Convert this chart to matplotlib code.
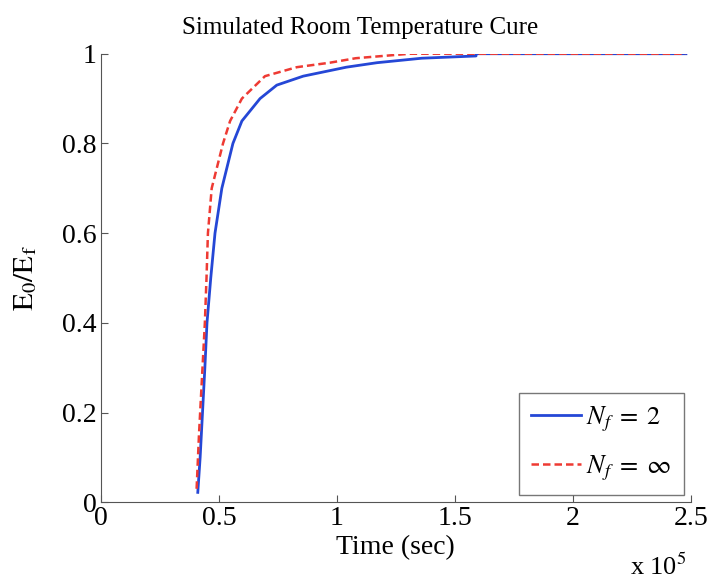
import matplotlib.pyplot as plt
from matplotlib.ticker import FuncFormatter

plt.rcParams['font.family'] = 'Liberation Serif'
plt.rcParams['mathtext.fontset'] = 'stix'

# time in seconds, modulus ratio
t_blue = [0.41e5, 0.42e5, 0.43e5, 0.44e5, 0.449e5, 0.465e5, 0.483e5, 0.512e5, 0.559e5,
          0.597e5, 0.674e5, 0.745e5, 0.857e5, 1.04e5, 1.17e5, 1.36e5, 1.59e5, 1.59e5, 2.48e5]
e_blue = [0.022, 0.1, 0.2, 0.3, 0.4, 0.5, 0.6, 0.7, 0.8,
          0.85, 0.9, 0.93, 0.95, 0.97, 0.98, 0.99, 0.995, 1.0, 1.0]

t_red = [0.405e5, 0.415e5, 0.425e5, 0.435e5, 0.44e5, 0.447e5, 0.453e5, 0.469e5, 0.517e5,
         0.547e5, 0.597e5, 0.695e5, 0.83e5, 0.97e5, 1.08e5, 1.31e5, 2.48e5]
e_red = [0.03, 0.15, 0.25, 0.35, 0.4, 0.5, 0.6, 0.7, 0.8,
         0.85, 0.9, 0.95, 0.97, 0.98, 0.99, 1.0, 1.0]

fig = plt.figure(figsize=(7.12, 5.84), dpi=100)
ax = fig.add_axes([0.142, 0.14, 0.828, 0.768])

ax.plot(t_blue, e_blue, color='#2547d6', lw=2, label='$N_f\\;=\\;2$')
ax.plot(t_red, e_red, color='#ee3a33', lw=1.8, ls='--', dashes=(3, 1.6),
        label='$N_f\\;=\\;\\infty$')

ax.set_xlim(0, 2.5e5)
ax.set_ylim(0, 1)
ax.set_xticks([0, 0.5e5, 1e5, 1.5e5, 2e5, 2.5e5])
ax.set_yticks([0, 0.2, 0.4, 0.6, 0.8, 1])
ax.xaxis.set_major_formatter(FuncFormatter(lambda v, p: '%g' % (v / 1e5)))
ax.yaxis.set_major_formatter(FuncFormatter(lambda v, p: '%g' % v))
ax.tick_params(direction='in', labelsize=20, length=5, color='#555555', pad=3)
ax.spines['top'].set_visible(False)
ax.spines['right'].set_visible(False)
ax.spines['left'].set_color('#555555')
ax.spines['bottom'].set_color('#555555')

ax.set_title('Simulated Room Temperature Cure', fontsize=18, pad=14, x=0.44)
ax.set_xlabel('Time (sec)', fontsize=20, labelpad=3)
ax.set_ylabel('$\\mathrm{E_0/E_f}$', fontsize=21, labelpad=17)
fig.text(0.885, 0.015, 'x 10$^5$', fontsize=19)

leg = ax.legend(loc='lower right', fontsize=19, frameon=True, fancybox=False,
                edgecolor='#555555', handlelength=1.9, borderaxespad=0.27, labelspacing=0.75,
                handletextpad=0.2, borderpad=0.45)
leg.get_frame().set_linewidth(1)

fig.savefig('out.png')
